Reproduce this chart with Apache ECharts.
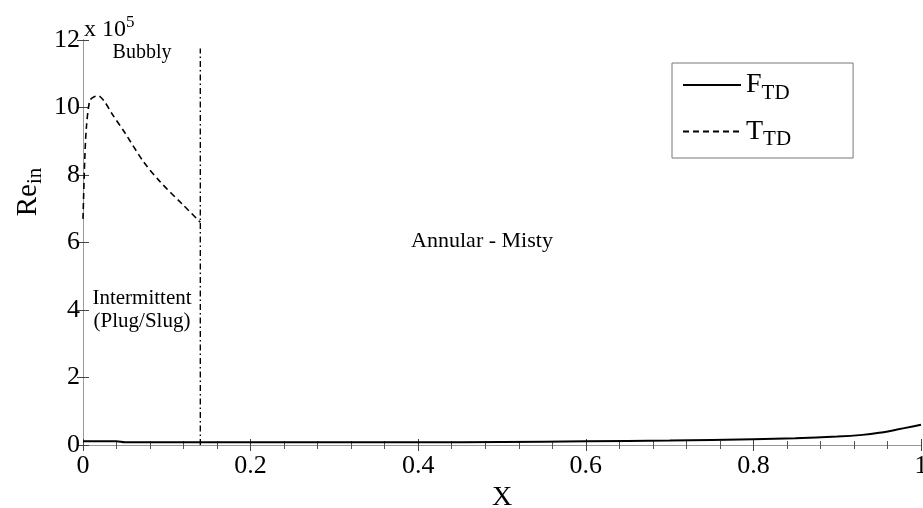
<!DOCTYPE html>
<html>
<head>
<meta charset="utf-8">
<script src="https://cdn.jsdelivr.net/npm/echarts@6/dist/echarts.min.js"></script>
<style>
html, body { margin: 0; padding: 0; background: #fff; }
#main { width: 923px; height: 508px; }
</style>
</head>
<body>
<div id="main"></div>
<script>
// values of Re_in are in units of 10^5
var fX = [0, 0.04, 0.05, 0.1, 0.2, 0.3, 0.4, 0.5, 0.6, 0.7, 0.8, 0.85, 0.9, 0.93, 0.95, 0.97, 0.99, 1.0];
var fY = [0.11, 0.11, 0.08, 0.08, 0.08, 0.08, 0.08, 0.09, 0.11, 0.13, 0.17, 0.2, 0.25, 0.3, 0.36, 0.45, 0.55, 0.6];

var tX = [0, 0.002, 0.004, 0.008, 0.012, 0.018, 0.025, 0.035, 0.05, 0.072, 0.092, 0.12, 0.14];
var tY = [6.7, 8.4, 9.4, 10.2, 10.3, 10.35, 10.2, 9.8, 9.25, 8.4, 7.8, 7.1, 6.6];

var boundX = [0.14, 0.14];
var boundY = [0, 11.75];

var xTicks = [0, 0.2, 0.4, 0.6, 0.8, 1];
var yTicks = [0, 2, 4, 6, 8, 10, 12];

function pairs(xs, ys) {
  var out = [];
  for (var i = 0; i < xs.length; i++) out.push([xs[i], ys[i]]);
  return out;
}

var serif = 'Liberation Serif, Times New Roman, serif';
var myChart = echarts.init(document.getElementById('main'));

var axisCommon = {
  type: 'value',
  axisLine: { show: true, lineStyle: { color: '#999', width: 1 } },
  axisTick: { show: true, inside: true, length: 6, lineStyle: { color: '#444' } },
  splitLine: { show: false }
};

option = {
  animation: false,
  backgroundColor: '#fff',
  grid: { left: 83, right: 2, top: 40, bottom: 63, containLabel: false, outerBoundsMode: 'none' },
  legend: {
    show: true,
    left: 672, top: 63,
    orient: 'vertical',
    data: ['F', 'T'],
    itemWidth: 58,
    itemHeight: 20,
    itemGap: 14,
    padding: [8, 62, 8, 10],
    borderColor: '#777',
    borderWidth: 1,
    backgroundColor: '#fff',
    itemStyle: { opacity: 0 },
    formatter: function (n) { return n + '{sub|TD}'; },
    textStyle: {
      fontFamily: serif, fontSize: 28, color: '#000',
      rich: { sub: { fontFamily: serif, fontSize: 21, color: '#000', padding: [16, 0, 0, 0] } }
    }
  },
  xAxis: [
    Object.assign({}, axisCommon, {
      min: 0, max: 1, interval: 0.2,
      minorTick: { show: true, splitNumber: 5, length: 4, lineStyle: { color: '#555' } },
      axisLabel: {
        fontFamily: serif, fontSize: 26, color: '#000', margin: 8,
        formatter: function (v) { return xTicks.indexOf(+v.toFixed(1)) >= 0 ? String(+v.toFixed(1)) : ''; }
      },
      name: 'X', nameLocation: 'middle', nameGap: 36,
      nameTextStyle: { fontFamily: serif, fontSize: 28, color: '#000' }
    }),
    Object.assign({}, axisCommon, {
      min: 0, max: 1, interval: 0.2, position: 'top',
      minorTick: { show: true, splitNumber: 5, length: 4, lineStyle: { color: '#555' } },
      axisLabel: { show: false }
    })
  ],
  yAxis: [
    Object.assign({}, axisCommon, {
      min: 0, max: 12, interval: 2,
      axisLabel: {
        fontFamily: serif, fontSize: 26, color: '#000', margin: 3,
        formatter: function (v) { return yTicks.indexOf(v) >= 0 ? String(v) : ''; }
      }
    }),
    Object.assign({}, axisCommon, {
      min: 0, max: 12, interval: 2, position: 'right',
      axisLabel: { show: false }
    })
  ],
  graphic: [
    { type: 'text', x: 28, y: 192, rotation: Math.PI / 2,
      style: { text: 'Re{sub|in}', font: '29px ' + serif, fill: '#000', align: 'center', verticalAlign: 'middle',
        rich: { sub: { fontSize: 21, fontFamily: serif, padding: [14, 0, 0, 0] } } } },
    { type: 'text', left: 84, top: 14, style: { text: 'x 10{sup|5}', font: '24px ' + serif, fill: '#000',
      rich: { sup: { fontSize: 17, fontFamily: serif, padding: [0, 0, 14, 0] } } } },
    { type: 'text', x: 142, y: 53, style: { text: 'Bubbly', font: '20px ' + serif, fill: '#000', align: 'center', verticalAlign: 'middle' } },
    { type: 'text', x: 482, y: 241, style: { text: 'Annular - Misty', font: '22px ' + serif, fill: '#000', align: 'center', verticalAlign: 'middle' } },
    { type: 'text', x: 142, y: 298, style: { text: 'Intermittent', font: '21px ' + serif, fill: '#000', align: 'center', verticalAlign: 'middle' } },
    { type: 'text', x: 142, y: 321, style: { text: '(Plug/Slug)', font: '21px ' + serif, fill: '#000', align: 'center', verticalAlign: 'middle' } }
  ],
  series: [
    {
      name: 'F', type: 'line', data: pairs(fX, fY), smooth: 0.3,
      showSymbol: false, symbol: 'none',
      lineStyle: { color: '#000', width: 2, type: 'solid' },
      itemStyle: { color: '#000' }
    },
    {
      name: 'T', type: 'line', data: pairs(tX, tY), smooth: 0.3,
      showSymbol: false, symbol: 'none',
      lineStyle: { color: '#000', width: 1.6, type: [6, 4] },
      itemStyle: { color: '#000' }
    },
    {
      name: 'boundary', type: 'line', data: pairs(boundX, boundY),
      showSymbol: false, symbol: 'none',
      lineStyle: { color: '#000', width: 1.4, type: [6, 3, 1.5, 3] }
    }
  ]
};
myChart.setOption(option);
</script>
</body>
</html>
